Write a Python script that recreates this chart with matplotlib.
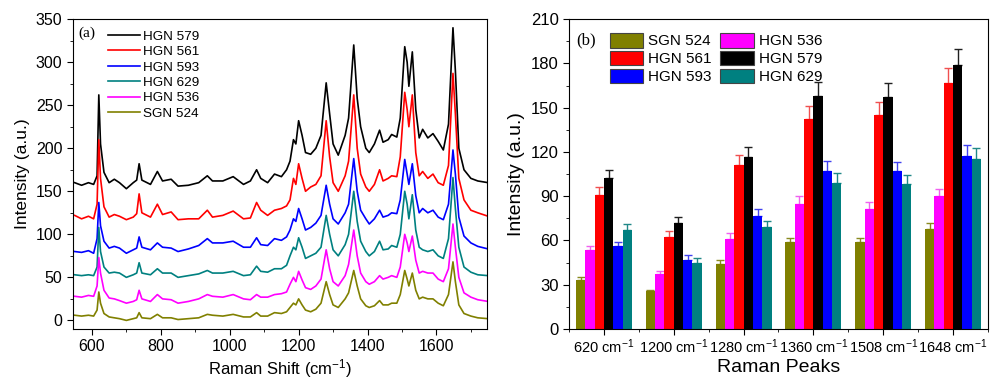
import matplotlib
matplotlib.use("Agg")
import matplotlib.pyplot as plt
from matplotlib.patches import Patch
from matplotlib.ticker import MultipleLocator, FixedLocator
import numpy as np

plt.rcParams['font.family'] = ['Liberation Sans', 'DejaVu Sans']
plt.rcParams['mathtext.default'] = 'regular'

# ---------------- Panel (a): Raman spectra ----------------
shift = [550, 570, 590, 605, 615, 620, 625, 635, 650, 665, 680, 700, 720, 730, 737, 745,
         770, 790, 805, 830, 850, 880, 910, 935, 950, 980, 1010, 1040, 1060, 1078, 1090,
         1110, 1130, 1150, 1165, 1175, 1185, 1192, 1200, 1210, 1220, 1235, 1250, 1265,
         1280, 1290, 1300, 1315, 1335, 1345, 1360, 1370, 1380, 1395, 1405, 1420, 1435,
         1445, 1460, 1470, 1485, 1495, 1508, 1515, 1520, 1530, 1540, 1550, 1560, 1575,
         1590, 1605, 1620, 1635, 1648, 1655, 1665, 1680, 1700, 1720, 1750]

spec_hgn579 = [160, 157, 160, 158, 168, 262, 205, 172, 160, 164, 160, 153, 160, 163, 182, 163,
               158, 173, 162, 164, 156, 157, 160, 168, 162, 162, 167, 158, 162, 175, 165,
               160, 170, 167, 175, 185, 210, 205, 232, 215, 195, 193, 200, 215,
               276, 240, 205, 192, 215, 235, 320, 258, 225, 200, 195, 205, 221,
               207, 210, 216, 213, 235, 318, 300, 272, 312, 245, 212, 222, 212,
               217, 208, 198, 228, 340, 290, 200, 175, 165, 162, 160]
spec_hgn561 = [122, 118, 121, 118, 135, 210, 165, 132, 120, 123, 121, 117, 120, 124, 147, 125,
               120, 135, 123, 126, 117, 118, 118, 128, 120, 122, 127, 118, 119, 137, 128,
               122, 128, 130, 133, 140, 165, 158, 182, 165, 150, 155, 158, 168,
               232, 190, 160, 150, 168, 185, 262, 200, 170, 155, 150, 158, 175,
               162, 165, 168, 167, 190, 265, 245, 225, 262, 195, 168, 173, 165,
               170, 160, 157, 180, 287, 240, 165, 140, 128, 125, 121]
spec_hgn593 = [80, 79, 81, 78, 95, 137, 110, 92, 84, 86, 84, 78, 82, 84, 97, 85,
               82, 90, 85, 84, 80, 83, 87, 95, 90, 90, 92, 85, 85, 96, 88,
               87, 95, 93, 97, 105, 118, 115, 130, 118, 105, 108, 113, 122,
               157, 135, 118, 112, 125, 135, 188, 150, 128, 118, 112, 118, 128,
               120, 122, 125, 124, 140, 187, 170, 158, 182, 145, 125, 130, 125,
               128, 120, 117, 135, 198, 170, 120, 98, 90, 86, 83]
spec_hgn629 = [53, 52, 53, 52, 62, 108, 80, 62, 55, 56, 55, 50, 53, 55, 67, 55,
               53, 60, 55, 55, 50, 52, 54, 58, 55, 55, 57, 52, 53, 63, 57,
               56, 60, 60, 64, 75, 85, 82, 96, 85, 72, 75, 78, 85,
               122, 100, 82, 75, 88, 100, 150, 115, 92, 80, 75, 80, 92,
               82, 83, 87, 85, 100, 150, 135, 118, 146, 105, 85, 82, 80,
               82, 75, 72, 95, 166, 130, 85, 62, 56, 53, 52]
spec_hgn536 = [28, 27, 29, 28, 40, 73, 55, 35, 26, 25, 23, 20, 22, 24, 35, 25,
               22, 30, 25, 24, 20, 22, 25, 30, 28, 27, 30, 25, 24, 30, 27,
               27, 30, 31, 33, 42, 50, 45, 57, 47, 38, 36, 40, 48,
               82, 60, 45, 40, 52, 65, 105, 75, 55, 45, 42, 45, 52,
               48, 50, 52, 50, 62, 100, 90, 80, 98, 70, 55, 57, 55,
               55, 48, 45, 60, 112, 85, 50, 32, 27, 24, 22]
spec_sgn524 = [6, 5, 6, 5, 12, 33, 20, 8, 4, 3, 2, 0, 2, 3, 9, 3,
               2, 7, 3, 3, 1, 2, 3, 7, 6, 5, 7, 4, 4, 9, 5,
               5, 9, 8, 10, 15, 20, 18, 25, 18, 12, 10, 13, 20,
               45, 30, 18, 15, 25, 32, 58, 40, 25, 17, 15, 17, 23,
               18, 18, 20, 20, 30, 58, 48, 40, 55, 35, 25, 27, 25,
               25, 20, 17, 30, 68, 45, 18, 8, 5, 3, 2]

spec_labels = ['HGN 579', 'HGN 561', 'HGN 593', 'HGN 629', 'HGN 536', 'SGN 524']
spec_colors = ['#000000', '#ff0000', '#0000ff', '#008080', '#ff00ff', '#808000']
spectra = [spec_hgn579, spec_hgn561, spec_hgn593, spec_hgn629, spec_hgn536, spec_sgn524]

# ---------------- Panel (b): bar chart ----------------
peaks = ['620', '1200', '1280', '1360', '1508', '1648']
bar_labels = ['SGN 524', 'HGN 536', 'HGN 561', 'HGN 579', 'HGN 593', 'HGN 629']
bar_colors = ['#808000', '#ff00ff', '#ff0000', '#000000', '#0000ff', '#008080']
err_colors = ['#8a8a20', '#f060f0', '#f05050', '#202020', '#4040f0', '#208888']
sgn524 = [33, 26, 44, 59, 59, 68]
hgn536 = [53.5, 37, 61, 85, 81, 90]
hgn561 = [91, 62.5, 111, 142, 145, 167]
hgn579 = [102, 72, 116.5, 158, 157, 179]
hgn593 = [56, 47, 76.5, 107, 107, 117.5]
hgn629 = [67, 45, 69, 99, 98, 115]
err524 = [2, 0.5, 2.5, 3, 3, 4]
err536 = [3, 2.5, 4, 5, 5, 5]
err561 = [5, 4, 7, 9, 9, 10]
err579 = [6, 4, 7, 9.5, 9.5, 10.5]
err593 = [3, 3, 4.5, 7, 6.5, 7]
err629 = [4, 3, 4.5, 6.5, 6.5, 7.5]
bar_values = [sgn524, hgn536, hgn561, hgn579, hgn593, hgn629]
bar_errors = [err524, err536, err561, err579, err593, err629]

fig = plt.figure(figsize=(9.9, 3.83), dpi=100)
axa = fig.add_axes([0.0737, 0.141, 0.4183, 0.809])
axb = fig.add_axes([0.5747, 0.141, 0.4233, 0.809])

for y, lab, col in zip(spectra, spec_labels, spec_colors):
    axa.plot(shift, y, color=col, lw=1.2, label=lab)
axa.set_xlim(545, 1747)
axa.set_ylim(-10, 350)
axa.xaxis.set_major_locator(MultipleLocator(200))
axa.xaxis.set_minor_locator(MultipleLocator(100))
axa.yaxis.set_major_locator(MultipleLocator(50))
axa.yaxis.set_minor_locator(MultipleLocator(25))
axa.tick_params(axis='both', which='major', labelsize=11.5, length=4, direction='out')
axa.tick_params(axis='both', which='minor', length=2.5, direction='out')
axa.set_xlabel('Raman Shift (cm$^{-1}$)', fontsize=12, labelpad=2)
axa.set_ylabel('Intensity (a.u.)', fontsize=12.5, labelpad=4)
axa.text(0.012, 0.953, '(a)', transform=axa.transAxes, fontsize=11,
         family='Liberation Serif', va='center', ha='left')
axa.legend(loc='upper left', bbox_to_anchor=(0.065, 0.99), frameon=False, fontsize=9.7,
           handlelength=2.4, handletextpad=0.2, labelspacing=0.22, borderaxespad=0.2)

n = len(bar_labels)
width = 0.8 / n
xc = np.arange(1, len(peaks) + 1)
for i, (vals, errs, col, ecol) in enumerate(zip(bar_values, bar_errors, bar_colors, err_colors)):
    pos = xc + (i - (n - 1) / 2) * width
    axb.bar(pos, vals, width=width, color=col, linewidth=0, zorder=2)
    axb.errorbar(pos, vals, yerr=[np.zeros(len(errs)), errs], fmt='none',
                 ecolor=ecol, elinewidth=1, capsize=3, capthick=1, zorder=1)
axb.set_xlim(0.5, 6.5)
axb.set_ylim(0, 210)
axb.set_xticks(xc)
axb.set_xticklabels([f'{p} cm$^{{-1}}$' for p in peaks])
axb.xaxis.set_minor_locator(FixedLocator(np.arange(0.5, 7, 1)))
axb.yaxis.set_major_locator(MultipleLocator(30))
axb.yaxis.set_minor_locator(MultipleLocator(15))
axb.tick_params(axis='y', which='major', labelsize=12, length=4, direction='out')
axb.tick_params(axis='x', which='major', labelsize=10.5, length=4, direction='out', pad=2)
axb.tick_params(axis='both', which='minor', length=2.5, direction='out')
axb.set_xlabel('Raman Peaks', fontsize=14, labelpad=2)
axb.set_ylabel('Intensity (a.u.)', fontsize=14, labelpad=4)
axb.text(0.018, 0.93, '(b)', transform=axb.transAxes, fontsize=12,
         family='Liberation Serif', va='center', ha='left')
handles = [Patch(facecolor=c, edgecolor='#444444', linewidth=0.8) for c in bar_colors]
order = [0, 2, 4, 1, 3, 5]
axb.legend([handles[k] for k in order], [bar_labels[k] for k in order],
           ncol=2, loc='upper left', bbox_to_anchor=(0.075, 0.985), frameon=False,
           fontsize=11, handlelength=2.2, handleheight=1.1, handletextpad=0.3,
           labelspacing=0.15, columnspacing=0.6, borderaxespad=0.2)

fig.savefig('out.png', dpi=100)
